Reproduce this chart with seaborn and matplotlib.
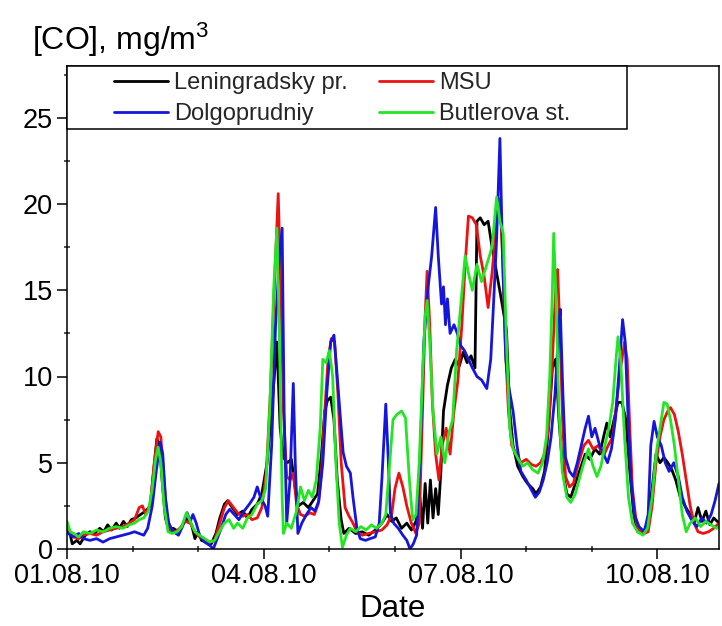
import numpy as np
import pandas as pd
import matplotlib
matplotlib.use("Agg")
import matplotlib.pyplot as plt
import seaborn as sns
from matplotlib.ticker import MultipleLocator, FixedLocator
from matplotlib.patches import Rectangle
from matplotlib.lines import Line2D

# ---------------- data (days since 01.08.10 00:00, CO in mg/m3) ----------------
stations = ["Leningradsky pr.", "MSU", "Dolgoprudniy", "Butlerova st."]
colors = ["#000000", "#ee1111", "#1515dd", "#22e622"]

lenin_day = [0, 0.04, 0.08, 0.15, 0.2, 0.28, 0.35, 0.42, 0.5, 0.56, 0.62, 0.68, 0.75, 0.8, 0.86, 0.92, 0.98,
             1.05, 1.12, 1.2, 1.27, 1.32, 1.37, 1.41, 1.45, 1.5, 1.56, 1.62, 1.7, 1.78, 1.84, 1.9, 1.95,
             2.0, 2.05, 2.12, 2.2, 2.27, 2.33, 2.4, 2.45, 2.52, 2.6, 2.68, 2.75, 2.82, 2.9, 2.97,
             3.05, 3.12, 3.2, 3.25, 3.3, 3.36, 3.42, 3.48, 3.53, 3.6, 3.68, 3.75, 3.82, 3.88, 3.93, 3.97,
             4.02, 4.07, 4.12, 4.18, 4.22, 4.3, 4.4, 4.5, 4.6, 4.7, 4.8, 4.88, 4.95,
             5.02, 5.1, 5.18, 5.25, 5.32, 5.38, 5.42, 5.46, 5.5, 5.54, 5.58, 5.62, 5.66, 5.7, 5.74, 5.8,
             5.86, 5.92, 5.98, 6.04, 6.1, 6.16, 6.22, 6.25, 6.3, 6.36, 6.42, 6.48, 6.55, 6.62, 6.7, 6.75,
             6.8, 6.87, 6.95, 7.02, 7.1, 7.15, 7.22, 7.28, 7.34, 7.4, 7.45, 7.5, 7.56, 7.62, 7.68, 7.75,
             7.82, 7.9, 7.97, 8.05, 8.12, 8.18, 8.23, 8.28, 8.34, 8.4, 8.46, 8.52, 8.58, 8.64, 8.7, 8.78,
             8.85, 8.92, 8.98, 9.04, 9.1, 9.16, 9.22, 9.28, 9.35, 9.42, 9.5, 9.56, 9.62, 9.68, 9.74, 9.8,
             9.86, 9.94]
lenin_co = [1.5, 1.0, 0.3, 0.5, 0.3, 0.8, 1.0, 0.9, 1.2, 1.0, 1.4, 1.1, 1.5, 1.2, 1.6, 1.3, 1.7,
            1.8, 2.0, 2.2, 2.5, 4.5, 6.4, 6.0, 4.0, 1.8, 1.0, 1.2, 1.0, 1.5, 1.8, 1.4, 0.6,
            1.0, 0.5, 0.4, 0.3, 0.9, 1.8, 2.6, 2.8, 2.4, 2.0, 2.2, 1.8, 2.3, 2.6, 3.2,
            5.0, 8.0, 12.0, 7.0, 5.3, 5.0, 5.2, 3.5, 2.5, 2.7, 2.4, 2.8, 3.2, 5.5, 8.0, 8.6,
            8.8, 7.5, 4.0, 1.7, 0.9, 1.2, 0.9, 1.0, 0.8, 1.1, 1.5, 2.0, 1.6,
            1.8, 1.2, 1.5, 1.1, 1.6, 3.0, 1.2, 3.8, 1.5, 4.0, 1.8, 3.5, 2.0, 4.5, 8.0, 9.5,
            10.5, 11.0, 10.6, 11.4, 10.8, 11.2, 10.5, 19.0, 19.2, 18.8, 19.0, 17.5, 16.0, 14.5, 12.7, 8.0,
            6.0, 4.8, 4.2, 3.8, 3.5, 3.2, 3.6, 4.5, 7.0, 10.5, 11.0, 7.5, 4.5, 3.2, 3.0, 3.8,
            4.6, 5.5, 5.2, 5.8, 5.5, 6.5, 7.3, 6.5, 7.5, 8.5, 8.5, 7.5, 4.5, 2.0, 1.0, 0.9,
            1.5, 3.5, 5.5, 5.0, 5.3, 5.0, 4.6, 4.0, 3.0, 2.5, 2.0, 1.5, 2.4, 1.6, 2.2, 1.4,
            1.8, 1.5]

msu_day = [0, 0.05, 0.1, 0.18, 0.25, 0.35, 0.45, 0.55, 0.65, 0.75, 0.85, 0.95, 1.03, 1.1, 1.15, 1.2,
           1.27, 1.33, 1.39, 1.43, 1.47, 1.52, 1.58, 1.65, 1.72, 1.8, 1.88, 1.95, 2.02, 2.1, 2.18, 2.25,
           2.32, 2.4, 2.46, 2.52, 2.6, 2.68, 2.75, 2.82, 2.9, 2.97, 3.04, 3.1, 3.17, 3.22, 3.26, 3.3,
           3.35, 3.4, 3.45, 3.5, 3.56, 3.63, 3.7, 3.77, 3.83, 3.88, 3.93, 3.98, 4.03, 4.08, 4.13, 4.18,
           4.24, 4.3, 4.36, 4.42, 4.5, 4.6, 4.7, 4.8, 4.88, 4.95, 5.0, 5.06, 5.12, 5.18, 5.25, 5.32,
           5.37, 5.42, 5.46, 5.49, 5.53, 5.57, 5.62, 5.67, 5.72, 5.78, 5.84, 5.9, 5.96, 6.02, 6.07, 6.12,
           6.18, 6.24, 6.3, 6.36, 6.42, 6.48, 6.55, 6.6, 6.64, 6.68, 6.73, 6.78, 6.85, 6.92, 7.0, 7.08,
           7.15, 7.22, 7.28, 7.34, 7.4, 7.45, 7.48, 7.52, 7.56, 7.6, 7.66, 7.72, 7.8, 7.88, 7.95, 8.02,
           8.1, 8.18, 8.25, 8.32, 8.38, 8.44, 8.5, 8.54, 8.58, 8.62, 8.68, 8.74, 8.8, 8.86, 8.92, 8.98,
           9.04, 9.1, 9.16, 9.2, 9.26, 9.32, 9.38, 9.44, 9.5, 9.56, 9.62, 9.7, 9.78, 9.86, 9.94]
msu_co = [1.3, 0.9, 0.7, 0.6, 0.8, 0.9, 0.8, 1.0, 1.1, 1.2, 1.3, 1.5, 1.7, 2.4, 2.5, 2.0,
          2.6, 5.0, 6.8, 6.5, 4.5, 2.0, 1.1, 1.0, 1.2, 1.6, 1.5, 1.0, 0.7, 0.5, 0.4, 0.5,
          1.4, 2.4, 2.8, 2.5, 2.1, 1.9, 2.0, 1.7, 1.8, 2.4, 4.5, 9.0, 16.0, 20.6, 15.0, 8.0,
          4.2, 4.0, 4.4, 2.6, 2.0, 1.9, 2.1, 2.0, 2.6, 4.5, 8.0, 11.0, 12.2, 12.0, 9.0, 5.0,
          2.4, 1.9, 1.5, 1.0, 0.8, 0.9, 1.0, 1.1, 1.4, 2.0, 3.5, 4.4, 3.6, 2.5, 1.5, 0.9,
          1.5, 8.0, 13.5, 16.1, 13.0, 8.5, 5.5, 4.0, 6.0, 7.0, 5.5, 8.0, 9.8, 13.0, 16.5, 19.3,
          19.2, 18.8, 17.0, 15.8, 14.0, 16.0, 19.0, 20.3, 17.0, 12.0, 8.0, 6.0, 5.5, 5.0, 5.2, 4.9,
          4.8, 5.0, 5.5, 7.0, 11.0, 15.0, 16.2, 12.0, 7.0, 4.2, 3.6, 3.8, 5.0, 6.0, 6.3, 5.8,
          6.0, 5.4, 6.0, 6.5, 8.5, 10.5, 12.0, 11.0, 7.0, 3.5, 1.5, 1.0, 0.9, 1.0, 2.5, 5.0,
          6.5, 7.5, 8.0, 8.2, 7.8, 6.8, 5.5, 4.0, 2.5, 1.5, 1.0, 0.9, 1.0, 1.2, 1.5]

dolgo_day = [0, 0.05, 0.1, 0.18, 0.25, 0.35, 0.45, 0.55, 0.65, 0.75, 0.85, 0.95, 1.03, 1.1, 1.17, 1.23,
             1.3, 1.36, 1.42, 1.46, 1.5, 1.55, 1.62, 1.7, 1.76, 1.83, 1.88, 1.92, 1.97, 2.02, 2.1, 2.18,
             2.23, 2.28, 2.35, 2.42, 2.48, 2.55, 2.62, 2.7, 2.78, 2.85, 2.9, 2.95, 3.02, 3.06, 3.12, 3.18,
             3.24, 3.28, 3.31, 3.35, 3.4, 3.45, 3.48, 3.52, 3.58, 3.65, 3.72, 3.78, 3.84, 3.9, 3.96, 4.02,
             4.07, 4.12, 4.17, 4.21, 4.26, 4.32, 4.36, 4.42, 4.47, 4.55, 4.62, 4.7, 4.76, 4.8, 4.86, 4.9,
             4.93, 4.98, 5.05, 5.12, 5.18, 5.23, 5.28, 5.33, 5.38, 5.44, 5.5, 5.56, 5.62, 5.66, 5.71, 5.74,
             5.77, 5.8, 5.84, 5.9, 5.95, 6.0, 6.06, 6.12, 6.18, 6.25, 6.32, 6.4, 6.46, 6.5, 6.55, 6.6,
             6.64, 6.69, 6.73, 6.8, 6.86, 6.92, 7.0, 7.07, 7.14, 7.2, 7.26, 7.32, 7.38, 7.44, 7.5, 7.52,
             7.56, 7.6, 7.66, 7.72, 7.78, 7.84, 7.9, 7.95, 8.0, 8.05, 8.12, 8.18, 8.24, 8.3, 8.36, 8.42,
             8.47, 8.51, 8.55, 8.6, 8.65, 8.72, 8.8, 8.86, 8.9, 8.95, 9.0, 9.06, 9.12, 9.18, 9.25, 9.32,
             9.38, 9.45, 9.52, 9.6, 9.68, 9.75, 9.82, 9.88, 9.94]
dolgo_co = [1.0, 0.8, 0.7, 0.9, 0.6, 0.5, 0.6, 0.4, 0.6, 0.7, 0.8, 0.9, 1.0, 0.9, 0.8, 1.2,
            2.5, 4.5, 6.2, 5.5, 3.0, 1.5, 1.0, 0.8, 1.3, 2.1, 1.6, 2.0, 1.5, 0.8, 0.4, 0.2,
            0.0, 0.5, 1.2, 2.0, 2.3, 2.0, 1.7, 2.2, 2.6, 3.0, 3.6, 3.0, 2.5, 1.9, 6.0, 13.0,
            17.0, 18.6, 8.0, 1.5, 4.0, 9.6, 5.0, 0.9, 1.5, 2.0, 2.4, 2.2, 2.8, 5.0, 9.0, 12.0,
            12.4, 10.0, 7.5, 5.6, 4.8, 4.4, 3.0, 1.2, 0.6, 0.5, 0.6, 0.7, 1.5, 4.0, 8.4, 5.0,
            2.1, 1.5, 1.2, 0.8, 0.5, 0.0, 0.3, 0.8, 5.0, 12.0, 15.0, 17.0, 19.8, 17.0, 14.2, 15.2,
            13.0, 14.5, 12.5, 13.0, 12.5, 11.8, 11.5, 11.0, 10.5, 10.0, 9.8, 9.3, 11.0, 14.0, 18.0, 23.8,
            17.0, 11.0, 9.5, 8.0, 6.0, 4.5, 4.0, 3.5, 3.0, 3.3, 4.0, 5.0, 6.5, 9.0, 13.0, 13.9,
            9.0, 5.3, 4.5, 4.2, 5.0, 6.0, 7.0, 7.7, 6.5, 7.0, 6.0, 5.5, 5.0, 5.8, 7.5, 10.5,
            13.3, 12.0, 8.0, 4.0, 2.0, 1.3, 1.0, 2.0, 6.0, 7.4, 6.5, 6.0, 5.0, 4.5, 5.0, 4.2,
            3.0, 2.2, 1.7, 1.3, 1.8, 1.5, 2.0, 2.8, 3.8]

butler_day = [0, 0.05, 0.1, 0.18, 0.25, 0.35, 0.45, 0.55, 0.65, 0.75, 0.85, 0.95, 1.03, 1.1, 1.17, 1.24,
              1.3, 1.35, 1.39, 1.43, 1.48, 1.54, 1.6, 1.68, 1.75, 1.82, 1.88, 1.95, 2.02, 2.1, 2.18, 2.25,
              2.32, 2.4, 2.47, 2.54, 2.6, 2.68, 2.75, 2.82, 2.9, 2.97, 3.03, 3.09, 3.15, 3.2, 3.24, 3.28,
              3.3, 3.35, 3.42, 3.5, 3.56, 3.62, 3.68, 3.74, 3.8, 3.86, 3.9, 3.95, 4.0, 4.05, 4.1, 4.15,
              4.2, 4.26, 4.32, 4.4, 4.48, 4.56, 4.64, 4.72, 4.8, 4.86, 4.92, 4.97, 5.03, 5.1, 5.16, 5.22,
              5.27, 5.32, 5.37, 5.42, 5.46, 5.49, 5.53, 5.58, 5.64, 5.7, 5.76, 5.82, 5.88, 5.94, 6.0, 6.07,
              6.12, 6.18, 6.25, 6.32, 6.4, 6.48, 6.55, 6.6, 6.65, 6.7, 6.75, 6.8, 6.88, 6.95, 7.02, 7.1,
              7.18, 7.25, 7.31, 7.36, 7.4, 7.42, 7.46, 7.5, 7.55, 7.62, 7.68, 7.75, 7.82, 7.88, 7.95, 8.02,
              8.08, 8.14, 8.2, 8.26, 8.32, 8.37, 8.4, 8.44, 8.5, 8.56, 8.62, 8.7, 8.78, 8.85, 8.92, 8.98,
              9.04, 9.1, 9.15, 9.2, 9.26, 9.32, 9.38, 9.44, 9.5, 9.58, 9.66, 9.74, 9.82, 9.9, 9.94]
butler_co = [1.6, 1.0, 0.9, 0.7, 1.0, 0.9, 1.1, 1.0, 1.2, 1.3, 1.2, 1.4, 1.5, 1.7, 1.8, 2.2,
             3.5, 5.2, 5.9, 5.0, 2.5, 1.0, 0.9, 1.0, 1.3, 2.1, 1.6, 1.0, 0.8, 0.6, 0.4, 0.5,
             1.0, 1.5, 1.7, 1.2, 1.5, 1.2, 1.8, 2.0, 2.6, 2.8, 3.5, 8.0, 15.0, 18.6, 12.0, 3.0,
             0.9, 1.5, 1.2, 2.2, 3.6, 2.8, 3.4, 3.0, 4.0, 7.0, 11.0, 10.8, 11.5, 10.0, 5.0, 1.5,
             0.1, 0.8, 1.2, 1.0, 1.3, 1.1, 1.4, 1.2, 1.5, 2.0, 5.0, 7.5, 7.8, 8.0, 7.6, 4.0,
             1.7, 2.0, 5.0, 10.0, 13.5, 14.4, 12.0, 8.0, 5.5, 6.5, 5.0, 6.7, 7.5, 11.5, 14.0, 17.0,
             16.0, 15.0, 16.5, 15.5, 16.5, 17.5, 20.4, 19.0, 18.3, 12.0, 7.0, 5.8, 5.2, 4.8, 5.0, 4.6,
             4.4, 5.0, 6.5, 10.0, 15.0, 18.3, 14.0, 8.0, 4.5, 3.0, 2.7, 3.2, 4.2, 5.0, 5.8, 4.8,
             4.2, 4.8, 6.0, 7.0, 8.5, 11.0, 12.3, 11.0, 6.5, 3.0, 1.5, 1.0, 0.8, 1.2, 3.0, 5.5,
             7.0, 8.5, 8.4, 7.5, 6.0, 4.0, 2.0, 1.0, 1.5, 1.8, 1.3, 1.6, 1.4, 1.2, 1.3]

tick_days = [0, 3, 6, 9]
tick_labels = ["01.08.10", "04.08.10", "07.08.10", "10.08.10"]

# ---------------- styling ----------------
sns.set_theme(style="ticks")
plt.rcParams["font.family"] = ["Liberation Sans", "DejaVu Sans"]
plt.rcParams["mathtext.fontset"] = "custom"
plt.rcParams["mathtext.rm"] = "Liberation Sans"
plt.rcParams["mathtext.default"] = "regular"

frames = []
for name, d, v in [(stations[0], lenin_day, lenin_co), (stations[1], msu_day, msu_co),
                   (stations[2], dolgo_day, dolgo_co), (stations[3], butler_day, butler_co)]:
    frames.append(pd.DataFrame({"day": d, "co": v, "station": name}))
df = pd.concat(frames, ignore_index=True)

W, H = 722, 626
fig = plt.figure(figsize=(W / 100, H / 100), dpi=100)
ax_l, ax_r, ax_t, ax_b = 67, 719, 66, 549
ax = fig.add_axes([ax_l / W, (H - ax_b) / H, (ax_r - ax_l) / W, (ax_b - ax_t) / H])

sns.lineplot(data=df, x="day", y="co", hue="station", hue_order=stations,
             palette=dict(zip(stations, colors)), estimator=None, sort=False,
             linewidth=2.0, legend=False, ax=ax)

ax.set_xlim(0, 9.94)
ax.set_ylim(0, 28)
ax.xaxis.set_major_locator(FixedLocator(tick_days))
ax.set_xticklabels(tick_labels)
ax.xaxis.set_minor_locator(MultipleLocator(1))
ax.yaxis.set_major_locator(MultipleLocator(5))
ax.yaxis.set_minor_locator(MultipleLocator(2.5))
ax.tick_params(which="major", direction="out", length=7, width=1.1, labelsize=19.5,
               colors="black", pad=3)
ax.tick_params(which="minor", direction="inout", length=5, width=1.1)
for s in ax.spines.values():
    s.set_visible(True)
    s.set_linewidth(1.1)
    s.set_color("black")
ax.set_ylabel("")
ax.set_xlabel("Date", fontsize=22.5, labelpad=4, color="black")

fig.text(32 / W, 1 - 50 / H, "[CO], mg/m$^3$", fontsize=23, ha="left", va="baseline",
         color="black")

# legend box
ax_w, ax_h = ax_r - ax_l, ax_b - ax_t
box = Rectangle((0, (ax_b - 129) / ax_h), (627 - ax_l) / ax_w, (129 - ax_t) / ax_h,
                transform=ax.transAxes, facecolor="white", edgecolor="black",
                linewidth=1.1, zorder=3, clip_on=False)
ax.add_patch(box)
handles = [Line2D([], [], color=c, lw=2.0) for c in colors]
order = [0, 2, 1, 3]
leg = ax.legend([handles[i] for i in order], [stations[i] for i in order], ncol=2,
                loc="upper left", bbox_to_anchor=((114 - ax_l) / ax_w, 1 - 6 / ax_h),
                frameon=False, borderpad=0, borderaxespad=0, fontsize=17,
                handlelength=2.3, handletextpad=0.25, columnspacing=1.3, labelspacing=0.4)
leg.set_zorder(4)

fig.savefig("out.png", dpi=100, facecolor="white")
